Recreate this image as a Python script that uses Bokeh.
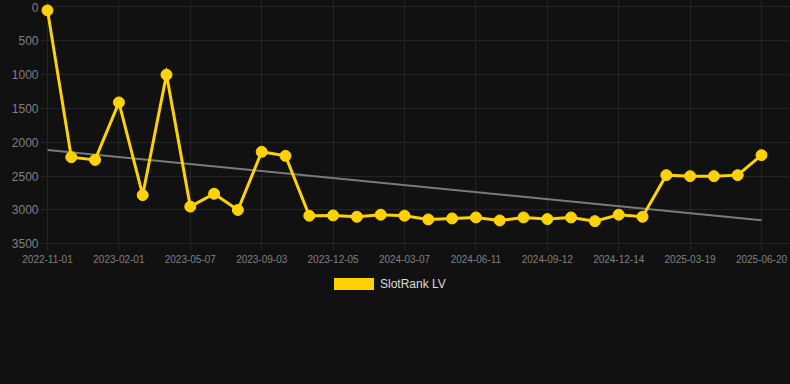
import numpy as np
from bokeh.plotting import figure
from bokeh.layouts import column
from bokeh.models import (Range1d, FixedTicker, ColumnDataSource, Div,
                          GlobalInlineStyleSheet)
from bokeh.embed import file_html
from bokeh.resources import INLINE

# ---- data ----
tick_labels = ["2022-11-01", "2023-02-01", "2023-05-07", "2023-09-03",
               "2023-12-05", "2024-03-07", "2024-06-11", "2024-09-12",
               "2024-12-14", "2025-03-19", "2025-06-20"]
ranks = [50, 2220, 2260, 1410, 2780, 1000, 2950, 2760, 3000, 2140,
         2200, 3085, 3080, 3100, 3070, 3085, 3140, 3125, 3110, 3155,
         3110, 3135, 3110, 3165, 3070, 3100, 2485, 2500, 2500, 2485,
         2190]
series_name = "SlotRank LV"
y_ticks = [0, 500, 1000, 1500, 2000, 2500, 3000, 3500]

idx = list(range(len(ranks)))
tick_idx = idx[::3]

# linear trend (least squares)
slope, intercept = np.polyfit(idx, ranks, 1)
trend_x = [idx[0], idx[-1]]
trend_y = [intercept + slope * trend_x[0], intercept + slope * trend_x[1]]

BG = "#111111"
GRID = "#242424"
GOLD = "#FFD200"
FONT = "Liberation Sans"

p = figure(width=790, height=270, output_backend="svg", toolbar_location=None,
           x_range=Range1d(-0.294, 31.218), y_range=Range1d(3525, -96),
           min_border_left=40, min_border_right=0, min_border_top=0,
           min_border_bottom=25)
p.background_fill_color = BG
p.border_fill_color = BG
p.outline_line_color = None

# axes
p.xaxis.ticker = FixedTicker(ticks=tick_idx)
p.xaxis.major_label_overrides = {i: lab for i, lab in zip(tick_idx, tick_labels)}
p.xaxis.axis_line_color = None
p.xaxis.major_tick_line_color = GRID
p.xaxis.major_tick_out = 5
p.xaxis.major_tick_in = 0
p.xaxis.minor_tick_line_color = None
p.xaxis.major_label_standoff = 4
p.xaxis.major_label_text_font = FONT
p.xaxis.major_label_text_font_size = "10px"
p.xaxis.major_label_text_color = "#808080"

p.yaxis.ticker = FixedTicker(ticks=y_ticks)
p.yaxis.axis_line_color = None
p.yaxis.major_tick_line_color = GRID
p.yaxis.major_tick_out = 0
p.yaxis.major_tick_in = 0
p.yaxis.minor_tick_line_color = None
p.yaxis.major_label_standoff = 2
p.yaxis.major_label_text_font = FONT
p.yaxis.major_label_text_font_size = "12px"
p.yaxis.major_label_text_color = "#808080"

p.xgrid.ticker = FixedTicker(ticks=tick_idx)
p.xgrid.grid_line_color = GRID
p.ygrid.ticker = FixedTicker(ticks=y_ticks)
p.ygrid.grid_line_color = GRID

# trend line (beneath data)
p.line(trend_x, trend_y, line_color="#7a7a7a", line_width=2)

src = ColumnDataSource(dict(x=idx, y=ranks))
p.line("x", "y", source=src, line_color=GOLD, line_width=3, line_join="miter")
p.scatter("x", "y", source=src, size=11, fill_color=GOLD, line_color=GOLD)

# legend (HTML, below the chart)
legend_html = (
    '<div style="position:relative;width:790px;height:114px;background:%s;">'
    '<span style="position:absolute;left:334px;top:8px;width:40px;height:12px;'
    'background:%s;"></span>'
    '<span style="position:absolute;left:380px;top:7px;font-family:\'%s\';'
    'font-size:12px;line-height:14px;color:#dddddd;white-space:nowrap;">%s</span>'
    '</div>' % (BG, GOLD, FONT, series_name)
)
legend = Div(text=legend_html, width=790, height=114, margin=(0, 0, 0, 0))

layout = column(p, legend, spacing=0)
layout.stylesheets = [GlobalInlineStyleSheet(
    css="html, body { margin: 0 !important; padding: 0; background: #111111; overflow: hidden; }")]

open("out.html", "w").write(file_html(layout, INLINE))
